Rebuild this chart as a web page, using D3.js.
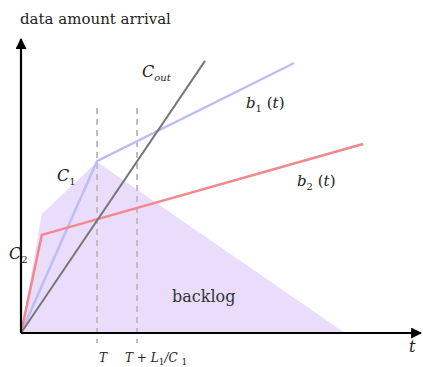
<!DOCTYPE html>
<html>
<head>
<meta charset="utf-8">
<script src="https://cdn.jsdelivr.net/npm/d3@7"></script>
<style>
  body { margin: 0; background: #fff; }
</style>
</head>
<body>
<svg width="423" height="367"></svg>
<script>
// curves, in chart units (t, amount)
const b1Points = [[0, 0], [19, 57.3], [68.3, 90]];
const b2Points = [[0, 0], [5.2, 32.7], [85.5, 63]];
const coutPoints = [[0, 0], [46, 90.7]];
const backlogPoints = [[0, 0], [5.2, 39.7], [19, 57], [81, 0]];

// marked times on t axis, label pieces: [text, isSubscript]
const tickTimes = [19, 29];
const tickLabels = [
  [["T", false]],
  [["T + L", false], ["1", true], ["/C ", false], ["1", true]]
];

const FONT = "'DejaVu Serif', 'Liberation Serif', serif";

const svg = d3.select("svg");

const x = d3.scaleLinear().domain([0, 100]).range([21, 421]);
const y = d3.scaleLinear().domain([0, 100]).range([333, 33]);

const line = d3.line().x(d => x(d[0])).y(d => y(d[1]));

// shaded backlog area
svg.append("path")
  .attr("d", line(backlogPoints) + "Z")
  .attr("fill", "#e9ddfb");

// dashed time markers
svg.selectAll(".marker")
  .data(tickTimes)
  .enter()
  .append("line")
  .attr("class", "marker")
  .attr("x1", d => x(d)).attr("x2", d => x(d))
  .attr("y1", y(75)).attr("y2", y(-3.3))
  .attr("stroke", "#c4bcc4")
  .attr("stroke-width", 2)
  .attr("stroke-dasharray", "6,5");

svg.append("path").attr("d", line(b1Points))
  .attr("fill", "none").attr("stroke", "#bdbdf6").attr("stroke-width", 2.5);
svg.append("path").attr("d", line(b2Points))
  .attr("fill", "none").attr("stroke", "#f2878c").attr("stroke-width", 2.5);
svg.append("path").attr("d", line(coutPoints))
  .attr("fill", "none").attr("stroke", "#777").attr("stroke-width", 2);

// axes with arrows
svg.append("defs").append("marker")
  .attr("id", "arrow")
  .attr("viewBox", "0 0 10 10")
  .attr("refX", 9).attr("refY", 5)
  .attr("markerWidth", 5).attr("markerHeight", 5)
  .attr("orient", "auto")
  .append("path").attr("d", "M0,0 L10,5 L0,10 Z").attr("fill", "#000");

svg.append("line")
  .attr("x1", x(0)).attr("y1", y(0)).attr("x2", x(0)).attr("y2", y(98))
  .attr("stroke", "#000").attr("stroke-width", 2.2).attr("marker-end", "url(#arrow)");
svg.append("line")
  .attr("x1", x(0)).attr("y1", y(0)).attr("x2", x(100)).attr("y2", y(0))
  .attr("stroke", "#000").attr("stroke-width", 2.2).attr("marker-end", "url(#arrow)");

const txt = () => svg.append("text").attr("font-family", FONT).attr("fill", "#222");

// labels
txt().attr("x", 20).attr("y", 24).attr("font-size", 15).text("data amount arrival");
txt().attr("x", 409).attr("y", 352).attr("font-size", 16).attr("font-style", "italic").text("t");

tickTimes.forEach((d, i) => {
  const t = txt().attr("x", i === 0 ? x(d) + 2 : x(d) - 12)
    .attr("y", 362)
    .attr("font-size", 12)
    .attr("font-style", "italic");
  let down = false;
  tickLabels[i].forEach(([s, isSub]) => {
    const sp = t.append("tspan").text(s);
    if (isSub && !down) { sp.attr("dy", 3).attr("font-size", 9).attr("font-style", "normal"); down = true; }
    else if (isSub) { sp.attr("font-size", 9).attr("font-style", "normal"); }
    else if (down) { sp.attr("dy", -3); down = false; }
  });
});

function sub(t, main, subscript, rest, subItalic) {
  t.append("tspan").attr("font-style", "italic").text(main);
  t.append("tspan").attr("font-size", 10).attr("dy", 4)
    .attr("font-style", subItalic ? "italic" : "normal").text(subscript);
  if (rest) {
    t.append("tspan").attr("dy", -4).text(" (");
    t.append("tspan").attr("font-style", "italic").text("t");
    t.append("tspan").text(")");
  }
  return t;
}

sub(txt().attr("x", 142).attr("y", 77).attr("font-size", 16), "C", "out", false, true);
sub(txt().attr("x", 246).attr("y", 108).attr("font-size", 15), "b", "1", true);
sub(txt().attr("x", 297).attr("y", 186).attr("font-size", 15), "b", "2", true);
sub(txt().attr("x", 57).attr("y", 181).attr("font-size", 16), "C", "1", false);
sub(txt().attr("x", 9).attr("y", 259).attr("font-size", 16), "C", "2", false);

txt().attr("x", 172).attr("y", 302).attr("font-size", 16).attr("fill", "#333").text("backlog");
</script>
</body>
</html>
